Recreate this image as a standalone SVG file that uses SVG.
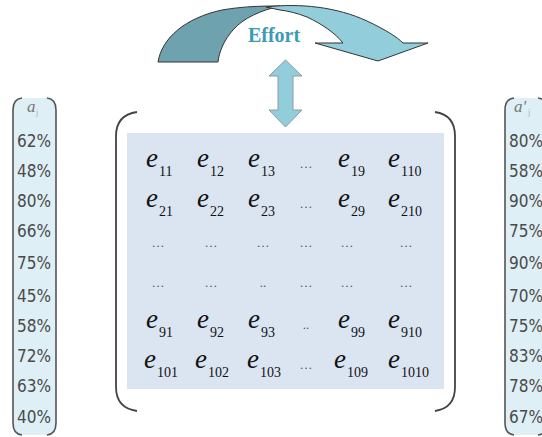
<svg xmlns="http://www.w3.org/2000/svg" width="542" height="437" viewBox="0 0 542 437">
<style>
.col{fill:#deeff5}
.br{fill:none;stroke:#555;stroke-width:1.6}
.pct{font-family:"DejaVu Sans Condensed","DejaVu Sans",sans-serif;font-size:17px;fill:#4a4a4a}
.hdr{font-family:"Liberation Serif",serif;font-style:italic;font-size:17px;fill:#777}
.hsub{font-family:"Liberation Serif",serif;font-size:8px;fill:#aaa}
.e{font-family:"Liberation Serif",serif;font-style:italic;font-size:27px;fill:#111}
.s{font-family:"Liberation Serif",serif;font-size:14px;fill:#111}
.d{font-family:"Liberation Serif",serif;font-size:13px;fill:#555;text-anchor:middle}
.par{fill:none;stroke:#444;stroke-width:1.8}
</style>
<g id="effort-arrow">
<path d="M158,62 C162,38 185,18 222,10 C245,6 265,6 280,6 C262,10 243,18 233,30 C224,40 219,52 218,62 Z" fill="#6da2ae" stroke="#333" stroke-width="1"/>
<path d="M266,7 C300,3 337,7 367,21 C386,30 397,37 403,43 L428,43 L378,61 L315,43 L343,43 C335,33 322,24 307,17 C297,13 288,11 280,10 Z" fill="#92cddc" stroke="#333" stroke-width="1"/>
<text x="274" y="42" text-anchor="middle" font-family="Liberation Serif,serif" font-weight="bold" font-size="20" fill="#3c9bb4">Effort</text>
</g>
<g id="double-arrow">
<path d="M285.5,60 L302,76 L293,76 L293,110 L302,110 L285.5,127 L269,110 L278,110 L278,76 L269,76 Z" fill="#92cddc" stroke="#8a9ba3" stroke-width="1"/>
</g>
<g id="left-column">
<rect class="col" x="13" y="98" width="43" height="337" rx="7"/>
<path class="br" d="M22,98 Q13,99 13,110 V423 Q13,434 22,435"/>
<path class="br" d="M47,98 Q56,99 56,110 V423 Q56,434 47,435"/>
<text class="hdr" x="27" y="112">a</text><text class="hsub" x="36" y="115">j</text>
<text class="pct" x="17" y="147">62%</text>
<text class="pct" x="17" y="177">48%</text>
<text class="pct" x="17" y="207">80%</text>
<text class="pct" x="17" y="237">66%</text>
<text class="pct" x="17" y="269">75%</text>
<text class="pct" x="17" y="302">45%</text>
<text class="pct" x="17" y="332">58%</text>
<text class="pct" x="17" y="362">72%</text>
<text class="pct" x="17" y="392">63%</text>
<text class="pct" x="17" y="423">40%</text>
</g>
<g id="right-column">
<rect class="col" x="505" y="98" width="50" height="337" rx="7"/>
<path class="br" d="M514,98 Q505,99 505,110 V423 Q505,434 514,435"/>
<path class="br" d="M538,98 Q547,99 547,110 V423 Q547,434 538,435"/>
<text class="hdr" x="514" y="112">a'</text><text class="hsub" x="528" y="115">j</text>
<text class="pct" x="509" y="147">80%</text>
<text class="pct" x="509" y="177">58%</text>
<text class="pct" x="509" y="207">90%</text>
<text class="pct" x="509" y="237">75%</text>
<text class="pct" x="509" y="269">90%</text>
<text class="pct" x="509" y="302">70%</text>
<text class="pct" x="509" y="332">75%</text>
<text class="pct" x="509" y="362">83%</text>
<text class="pct" x="509" y="392">78%</text>
<text class="pct" x="509" y="423">67%</text>
</g>
<g id="matrix">
<rect x="127" y="133" width="317" height="256" fill="#dbe5f1"/>
<path class="par" d="M137,112 Q116,115 116,136 V387 Q116,408 137,411"/>
<path class="par" d="M435,112 Q455,115 455,136 V387 Q455,408 435,411"/>
<text class="e" x="146" y="167">e</text><text class="s" x="159" y="176">11</text>
<text class="e" x="197" y="167">e</text><text class="s" x="210" y="176">12</text>
<text class="e" x="248" y="167">e</text><text class="s" x="261" y="176">13</text>
<text class="d" x="306" y="168">…</text>
<text class="e" x="338" y="167">e</text><text class="s" x="351" y="176">19</text>
<text class="e" x="388" y="167">e</text><text class="s" x="401" y="176">110</text>
<text class="e" x="146" y="207">e</text><text class="s" x="159" y="216">21</text>
<text class="e" x="197" y="207">e</text><text class="s" x="210" y="216">22</text>
<text class="e" x="248" y="207">e</text><text class="s" x="261" y="216">23</text>
<text class="d" x="306" y="208">…</text>
<text class="e" x="338" y="207">e</text><text class="s" x="351" y="216">29</text>
<text class="e" x="388" y="207">e</text><text class="s" x="401" y="216">210</text>
<text class="d" x="158" y="247">…</text>
<text class="d" x="211" y="247">…</text>
<text class="d" x="263" y="247">…</text>
<text class="d" x="306" y="247">…</text>
<text class="d" x="347" y="247">…</text>
<text class="d" x="406" y="247">…</text>
<text class="d" x="158" y="287">…</text>
<text class="d" x="211" y="287">…</text>
<text class="d" x="263" y="287">..</text>
<text class="d" x="306" y="287">…</text>
<text class="d" x="347" y="287">…</text>
<text class="d" x="406" y="287">…</text>
<text class="e" x="146" y="328">e</text><text class="s" x="159" y="337">91</text>
<text class="e" x="197" y="328">e</text><text class="s" x="210" y="337">92</text>
<text class="e" x="248" y="328">e</text><text class="s" x="261" y="337">93</text>
<text class="d" x="306" y="329">..</text>
<text class="e" x="338" y="328">e</text><text class="s" x="351" y="337">99</text>
<text class="e" x="388" y="328">e</text><text class="s" x="401" y="337">910</text>
<text class="e" x="144" y="368">e</text><text class="s" x="157" y="377">101</text>
<text class="e" x="195" y="368">e</text><text class="s" x="208" y="377">102</text>
<text class="e" x="247" y="368">e</text><text class="s" x="260" y="377">103</text>
<text class="d" x="306" y="369">…</text>
<text class="e" x="334" y="368">e</text><text class="s" x="347" y="377">109</text>
<text class="e" x="388" y="368">e</text><text class="s" x="401" y="377">1010</text>
</g>
</svg>
